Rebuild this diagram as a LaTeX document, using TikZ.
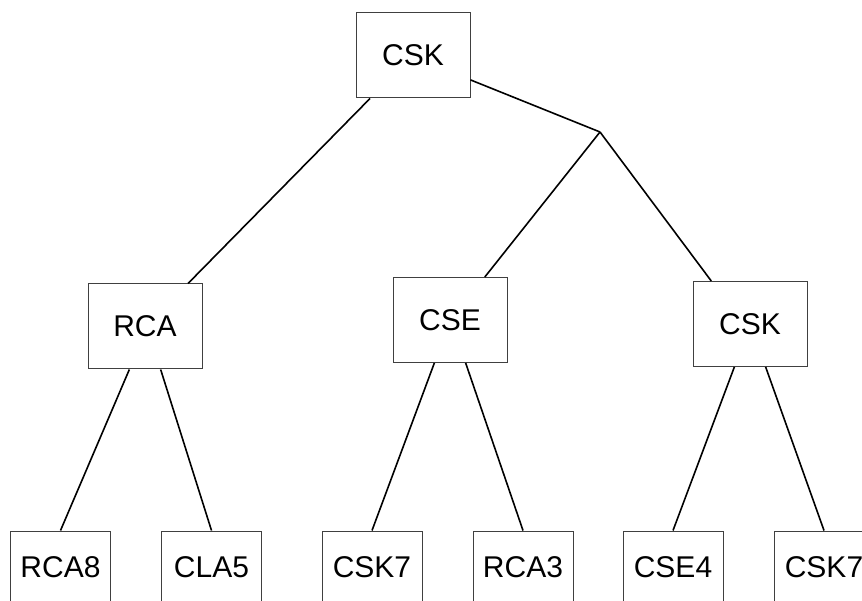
\documentclass[tikz,border=0pt]{standalone}
\usepackage{fontspec}
\setmainfont{Liberation Sans}
\tikzset{
  box/.style={draw=black!75, line width=1pt, minimum width=114pt, minimum height=85pt,
    inner sep=0pt, font=\fontsize{30}{36}\selectfont},
  leaf/.style={box, minimum width=100pt, minimum height=72pt},
}
\begin{document}
\begin{tikzpicture}[x=1pt,y=-1pt]
  \useasboundingbox (0,0) rectangle (862,601);
  \clip (0,0) rectangle (862,601);
  \draw
    (413,55.5) node[box] (csk){CSK}
    (145,326.5) node[box] (rca){RCA}
    (450,320) node[box] (cse){CSE}
    (750,324) node[box] (csk2){CSK}
    (60.5,567) node[leaf] (rca8){RCA8}
    (211.5,567) node[leaf] (cla5){CLA5}
    (372,567) node[leaf] (csk7){CSK7}
    (523,567) node[leaf] (rca3){RCA3}
    (673,567) node[leaf] (cse4){CSE4}
    (824,567) node[leaf] (csk7b){CSK7};
  \coordinate (j) at (600,132);
  \begin{scope}[line width=1.6pt]
    \draw (csk.225) to (rca.45);
    \draw (csk.-23) to (j);
    \draw (j) to (cse.51);
    \draw (j) to (csk2.132);
    \draw (rca.250) to (rca8.north);
    \draw (rca.290) to (cla5.north);
    \draw (cse.250) to (csk7.north);
    \draw (cse.290) to (rca3.north);
    \draw (csk2.250) to (cse4.north);
    \draw (csk2.290) to (csk7b.north);
  \end{scope}
\end{tikzpicture}
\end{document}
